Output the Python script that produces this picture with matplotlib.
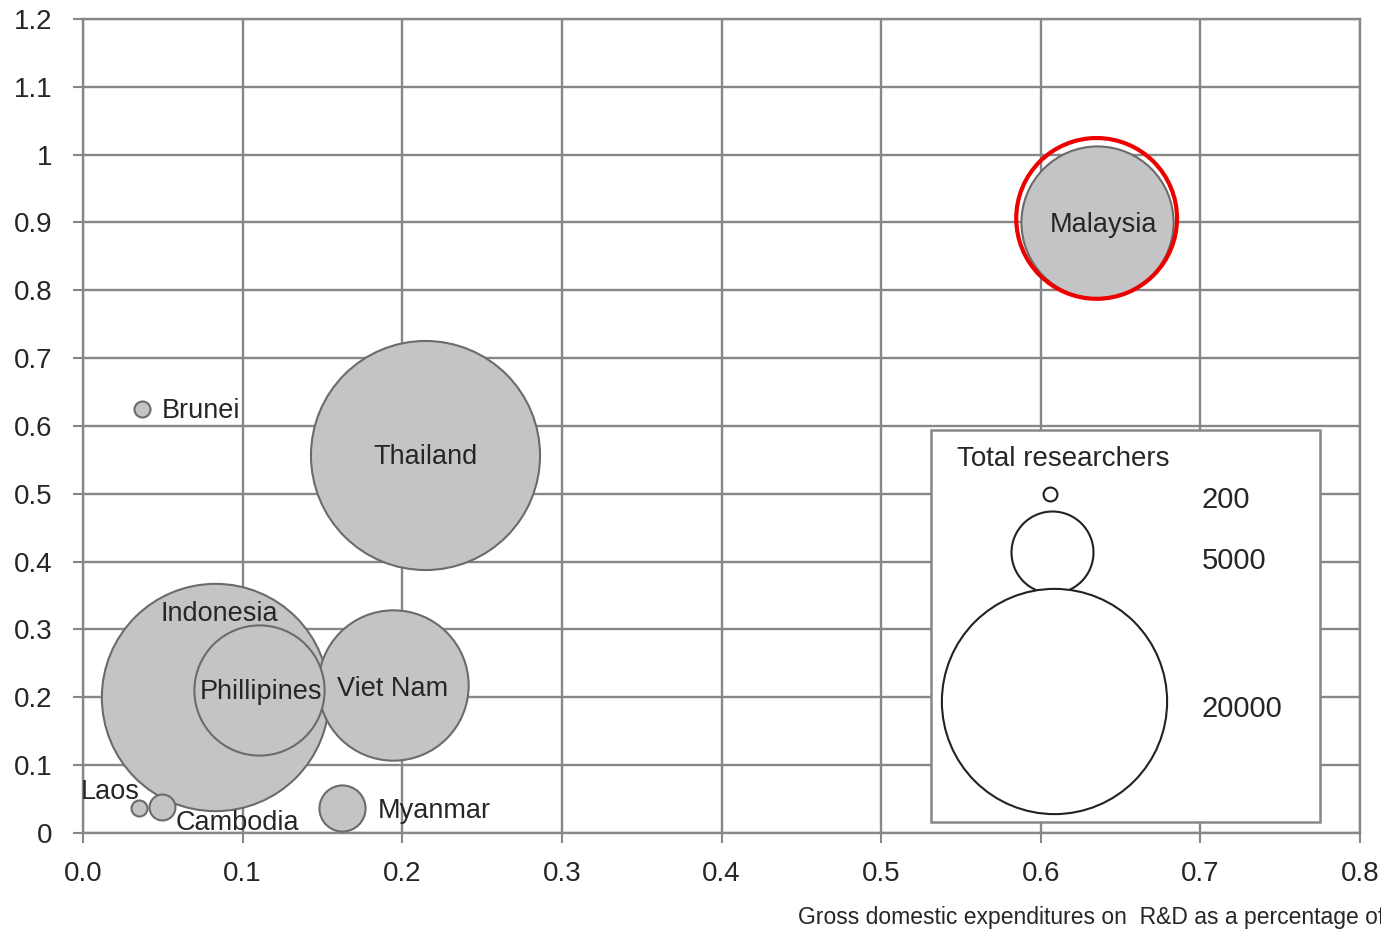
import matplotlib
matplotlib.use("Agg")
import matplotlib.pyplot as plt
from matplotlib.patches import Rectangle

plt.rcParams['font.family'] = ['Liberation Sans', 'DejaVu Sans']

# data
countries = ['Indonesia', 'Thailand', 'Malaysia', 'Viet Nam', 'Phillipines',
             'Myanmar', 'Cambodia', 'Laos', 'Brunei']
gerd_pct = [0.083, 0.214, 0.635, 0.194, 0.110, 0.162, 0.0495, 0.035, 0.037]
yvals = [0.200, 0.557, 0.900, 0.218, 0.211, 0.037, 0.038, 0.037, 0.625]
researchers = [19200, 19500, 8600, 8400, 6300, 790, 250, 95, 95]

legend_values = [200, 5000, 20000]

xticks = [0.0, 0.1, 0.2, 0.3, 0.4, 0.5, 0.6, 0.7, 0.8]
yticks = [0, 0.1, 0.2, 0.3, 0.4, 0.5, 0.6, 0.7, 0.8, 0.9, 1.0, 1.1, 1.2]
ytick_labels = ['0', '0.1', '0.2', '0.3', '0.4', '0.5', '0.6', '0.7', '0.8',
                '0.9', '1', '1.1', '1.2']

# label offsets in points from bubble centre
label_offsets = {
    'Malaysia': (5, -2, 'center'), 'Thailand': (1, -1.5, 'center'),
    'Indonesia': (3, 60, 'center'), 'Phillipines': (1.5, -1.5, 'center'),
    'Viet Nam': (0, -3, 'center'), 'Myanmar': (26, -2, 'left'),
    'Cambodia': (54, -11.5, 'center'), 'Laos': (-21, 11.5, 'center'),
    'Brunei': (14, -1.5, 'left'),
}

grid_col = '#878787'
txt_col = '#262626'
fig = plt.figure(figsize=(13.81, 9.30), dpi=100)
ax = fig.add_axes([0.0601, 0.1043, 0.9247, 0.8753])

ax.set_xlim(0, 0.8)
ax.set_ylim(0, 1.2)
ax.set_xticks(xticks)
ax.set_xticklabels([f'{v:.1f}' for v in xticks])
ax.set_yticks(yticks)
ax.set_yticklabels(ytick_labels)
ax.grid(True, color=grid_col, lw=1.7, zorder=0)
ax.set_axisbelow(True)
for sp in ax.spines.values():
    sp.set_color(grid_col)
    sp.set_linewidth(1.7)
ax.tick_params(axis='both', colors=grid_col, length=7, width=1.5,
               labelsize=20, labelcolor=txt_col)
ax.tick_params(axis='y', pad=15)
ax.tick_params(axis='x', pad=13)

k = 1.395  # marker area (pt^2) per researcher
order = sorted(range(len(countries)), key=lambda i: -researchers[i])
for z, i in enumerate(order):
    ax.scatter(gerd_pct[i], yvals[i], s=researchers[i] * k, c='#c4c4c6',
               edgecolors='#6b6b6b', linewidths=1.5, zorder=3 + z)
for i, name in enumerate(countries):
    dx, dy, ha = label_offsets[name]
    ax.annotate(name, (gerd_pct[i], yvals[i]), xytext=(dx, dy),
                textcoords='offset points', ha=ha, va='center',
                fontsize=19.5, color=txt_col, zorder=20)

# red highlight ring on Malaysia
mi = countries.index('Malaysia')
ax.scatter(gerd_pct[mi], yvals[mi] + 0.006, s=13400, facecolors='none',
           edgecolors='#ee0000', linewidths=3, zorder=21)

# size legend
ax.add_patch(Rectangle((0.531, 0.016), 0.244, 0.578, facecolor='white',
                       edgecolor=grid_col, lw=1.8, zorder=22))
ax.text(0.614, 0.552, 'Total researchers', ha='center', va='center',
        fontsize=20, color=txt_col, zorder=23)
leg_sizes = [100, 3485, 26300]
leg_y = [0.500, 0.414, 0.195]
leg_x = [0.606, 0.607, 0.608]
lab_y = [0.491, 0.401, 0.183]
for v, s, lx, ly, ty in zip(legend_values, leg_sizes, leg_x, leg_y, lab_y):
    ax.scatter(lx, ly, s=s, facecolors='white', edgecolors='#222222',
               linewidths=1.5, zorder=24)
    ax.text(0.701, ty, str(v), ha='left', va='center', fontsize=21,
            color=txt_col, zorder=24)

fig.text(798 / 1381, 1 - 917 / 930, 'Gross domestic expenditures on  R&D as a percentage of GDP',
         ha='left', va='center', fontsize=16.5, color=txt_col)

fig.savefig('out.png', dpi=100)
